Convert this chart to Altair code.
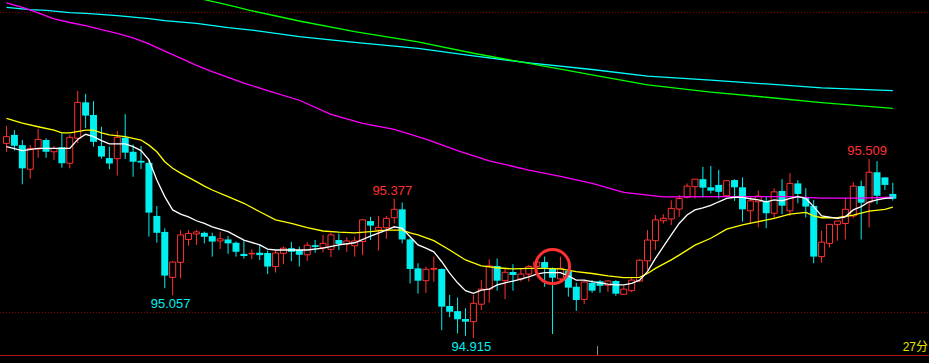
import altair as alt
import pandas as pd

# ---------------- candle data ----------------
open_ = [
    95.561, 95.589, 95.555, 95.475, 95.542, 95.572, 95.533, 95.548, 95.495, 95.578,
    95.697, 95.655, 95.552, 95.512, 95.510, 95.580, 95.533, 95.503, 95.496, 95.320,
    95.267, 95.116, 95.166, 95.242, 95.260, 95.264, 95.253, 95.237, 95.242, 95.231,
    95.194, 95.194, 95.198, 95.197, 95.152, 95.196, 95.213, 95.207, 95.191, 95.223,
    95.215, 95.209, 95.240, 95.227, 95.221, 95.235, 95.303, 95.273, 95.281, 95.314,
    95.342, 95.242, 95.146, 95.105, 95.143, 95.144, 95.021, 95.004, 94.978, 94.969,
    95.027, 95.077, 95.154, 95.105, 95.134, 95.111, 95.127, 95.152, 95.167, 95.146,
    95.111, 95.137, 95.085, 95.043, 95.098, 95.103, 95.090, 95.104, 95.060, 95.072,
    95.104, 95.171, 95.238, 95.304, 95.310, 95.343, 95.382, 95.417, 95.442, 95.415,
    95.423, 95.387, 95.439, 95.415, 95.337, 95.367, 95.370, 95.329, 95.403, 95.337,
    95.428, 95.382, 95.353, 95.185, 95.229, 95.292, 95.295, 95.320, 95.419, 95.365,
    95.465, 95.448, 95.393]

close = [
    95.583, 95.553, 95.478, 95.544, 95.574, 95.533, 95.544, 95.495, 95.581, 95.697,
    95.653, 95.566, 95.517, 95.494, 95.581, 95.530, 95.500, 95.497, 95.331, 95.264,
    95.122, 95.167, 95.257, 95.262, 95.267, 95.251, 95.235, 95.244, 95.229, 95.201,
    95.187, 95.196, 95.190, 95.152, 95.197, 95.213, 95.201, 95.191, 95.223, 95.217,
    95.229, 95.257, 95.227, 95.237, 95.237, 95.307, 95.288, 95.282, 95.312, 95.342,
    95.242, 95.144, 95.105, 95.143, 95.146, 95.019, 95.002, 94.977, 94.969, 95.030,
    95.077, 95.154, 95.105, 95.133, 95.124, 95.127, 95.152, 95.167, 95.148, 95.115,
    95.146, 95.082, 95.041, 95.101, 95.072, 95.088, 95.104, 95.062, 95.077, 95.107,
    95.173, 95.240, 95.307, 95.312, 95.345, 95.378, 95.419, 95.442, 95.414, 95.404,
    95.400, 95.437, 95.415, 95.342, 95.370, 95.386, 95.329, 95.400, 95.354, 95.428,
    95.393, 95.351, 95.185, 95.233, 95.292, 95.303, 95.342, 95.419, 95.364, 95.465,
    95.387, 95.423, 95.377]

high = [
    95.619, 95.605, 95.572, 95.555, 95.609, 95.578, 95.552, 95.594, 95.589, 95.735,
    95.725, 95.701, 95.616, 95.550, 95.602, 95.658, 95.557, 95.552, 95.506, 95.353,
    95.279, 95.170, 95.273, 95.273, 95.273, 95.268, 95.264, 95.268, 95.253, 95.235,
    95.240, 95.209, 95.226, 95.205, 95.205, 95.218, 95.234, 95.218, 95.233, 95.240,
    95.257, 95.264, 95.262, 95.249, 95.251, 95.310, 95.317, 95.320, 95.320, 95.377,
    95.365, 95.246, 95.163, 95.152, 95.185, 95.146, 95.058, 95.049, 95.013, 95.058,
    95.107, 95.176, 95.179, 95.146, 95.160, 95.146, 95.157, 95.170, 95.185, 95.149,
    95.185, 95.143, 95.098, 95.107, 95.107, 95.107, 95.107, 95.107, 95.088, 95.116,
    95.176, 95.273, 95.323, 95.326, 95.372, 95.389, 95.428, 95.442, 95.483, 95.486,
    95.473, 95.439, 95.442, 95.448, 95.386, 95.404, 95.384, 95.412, 95.442, 95.462,
    95.439, 95.412, 95.373, 95.271, 95.292, 95.303, 95.378, 95.432, 95.437, 95.509,
    95.502, 95.448, 95.430]

low = [
    95.533, 95.537, 95.425, 95.444, 95.513, 95.513, 95.506, 95.480, 95.478, 95.561,
    95.612, 95.550, 95.510, 95.475, 95.454, 95.509, 95.450, 95.476, 95.251, 95.231,
    95.080, 95.057, 95.113, 95.221, 95.224, 95.229, 95.185, 95.210, 95.194, 95.185,
    95.179, 95.177, 95.174, 95.127, 95.132, 95.160, 95.170, 95.152, 95.171, 95.198,
    95.199, 95.183, 95.207, 95.201, 95.185, 95.190, 95.240, 95.205, 95.244, 95.295,
    95.229, 95.096, 95.062, 95.065, 95.102, 94.941, 94.984, 94.930, 94.922, 94.915,
    95.008, 95.032, 95.072, 95.044, 95.072, 95.102, 95.102, 95.135, 95.085, 94.928,
    95.105, 95.052, 95.005, 95.027, 95.065, 95.065, 95.068, 95.055, 95.058, 95.067,
    95.102, 95.141, 95.207, 95.295, 95.290, 95.317, 95.378, 95.378, 95.382, 95.395,
    95.378, 95.384, 95.370, 95.301, 95.295, 95.282, 95.279, 95.309, 95.326, 95.320,
    95.362, 95.315, 95.163, 95.165, 95.216, 95.238, 95.242, 95.313, 95.242, 95.282,
    95.359, 95.406, 95.371]

# ---------------- moving-average lines ----------------
white_x = [0, 2, 4, 6, 8, 9, 10, 11, 12, 13, 15, 16, 17, 18, 19, 20, 21, 22, 23, 24,
           25, 26, 28, 30, 32, 33, 34, 36, 38, 40, 42, 44, 46, 48, 49, 50, 51, 52,
           53, 54, 55, 56, 57, 58, 59, 60, 61, 62, 63, 64, 65, 66, 67, 68, 69, 70,
           71, 72, 73, 74, 75, 76, 77, 78, 79, 80, 81, 82, 83, 84, 85, 86, 87, 88,
           89, 90, 91, 92, 93, 94, 95, 96, 97, 98, 99, 100, 101, 102, 103, 104, 105,
           106, 107, 108, 109, 110, 111, 112]
white_y = [95.550, 95.537, 95.544, 95.544, 95.544, 95.574, 95.591, 95.583, 95.570, 95.559,
           95.559, 95.550, 95.537, 95.506, 95.439, 95.384, 95.340, 95.326, 95.317, 95.304,
           95.295, 95.284, 95.268, 95.240, 95.224, 95.210, 95.207, 95.207, 95.207, 95.213,
           95.224, 95.231, 95.253, 95.273, 95.284, 95.279, 95.251, 95.224,
           95.213, 95.201, 95.168, 95.130, 95.098, 95.072, 95.063, 95.074, 95.077, 95.091,
           95.098, 95.104, 95.110, 95.118, 95.127, 95.132, 95.132, 95.132, 95.121, 95.107,
           95.107, 95.102, 95.098, 95.094, 95.091, 95.091, 95.096, 95.107, 95.135, 95.179,
           95.218, 95.257, 95.295, 95.323, 95.340, 95.347, 95.355, 95.367, 95.378, 95.382,
           95.382, 95.377, 95.373, 95.367, 95.373, 95.370, 95.378, 95.384, 95.378, 95.351,
           95.320, 95.316, 95.312, 95.317, 95.340, 95.351, 95.367, 95.373, 95.378, 95.380]

yellow_x = [0, 2, 4, 6, 7, 8, 10, 11, 12, 13, 15, 17, 18, 19, 20, 21, 22, 23, 24, 25,
            26, 28, 30, 32, 34, 36, 38, 40, 42, 44, 46, 48, 50, 51, 52, 54, 56, 58, 60,
            62, 64, 66, 68, 70, 72, 74, 76, 78, 80, 81, 82, 84, 85, 87, 89, 91, 93, 95,
            97, 99, 101, 102, 103, 105, 107, 109, 111, 112]
yellow_y = [95.644, 95.628, 95.616, 95.605, 95.596, 95.596, 95.605, 95.605, 95.596, 95.589,
            95.583, 95.572, 95.555, 95.533, 95.500, 95.478, 95.462, 95.448, 95.434, 95.419,
            95.406, 95.384, 95.362, 95.334, 95.307, 95.295, 95.281, 95.270, 95.266, 95.264,
            95.268, 95.273, 95.273, 95.264, 95.257, 95.238, 95.207, 95.174, 95.154, 95.148,
            95.144, 95.146, 95.146, 95.144, 95.135, 95.129, 95.121, 95.115, 95.116, 95.129,
            95.146, 95.174, 95.190, 95.223, 95.246, 95.276, 95.290, 95.301, 95.312, 95.326,
            95.332, 95.320, 95.314, 95.314, 95.323, 95.336, 95.342, 95.349]

magenta_x = [0, 2, 4, 6, 8, 10, 12, 14, 16, 18, 20, 22, 24, 26, 28, 30, 33, 37, 41, 45,
             49, 53, 57, 61, 66, 70, 74, 78, 83, 91, 99, 103, 108, 112]
magenta_y = [96.027, 96.012, 95.994, 95.974, 95.962, 95.952, 95.938, 95.926, 95.911, 95.891,
             95.867, 95.844, 95.820, 95.799, 95.780, 95.761, 95.736, 95.704, 95.657, 95.627,
             95.607, 95.575, 95.537, 95.503, 95.472, 95.451, 95.428, 95.398, 95.383, 95.384,
             95.384, 95.379, 95.379, 95.382]

cyan_x = [0, 3, 5, 8, 10, 14, 18, 20, 24, 28, 31, 37, 44, 52, 59, 66, 74, 81, 89, 96, 103, 112]
cyan_y = [96.012, 96.005, 96.002, 95.995, 95.992, 95.985, 95.975, 95.968, 95.959, 95.945,
          95.937, 95.915, 95.896, 95.876, 95.851, 95.828, 95.806, 95.784, 95.771, 95.758,
          95.745, 95.736]

green_x = [25, 27, 29, 31, 37, 44, 52, 59, 66, 74, 81, 89, 96, 103, 112]
green_y = [96.038, 96.026, 96.014, 96.001, 95.967, 95.932, 95.898, 95.860, 95.826, 95.788,
           95.755, 95.731, 95.714, 95.696, 95.677]

# annotations: extreme prices and the candle they belong to
hi_labels = ["95.377", "95.509"]
hi_idx = [49, 109]
hi_val = [95.377, 95.509]
lo_labels = ["95.057", "94.915"]
lo_idx = [21, 59]
lo_val = [95.057, 94.915]
circle_idx = [69]
circle_val = [95.152]
time_label = "27分"

# ---------------- styling ----------------
RED = "#ff3232"
CYAN = "#00f0f0"
BG = "#000000"

X = alt.Scale(domain=[-0.1875, 115.9375], nice=False, zero=False)
Y = alt.Scale(domain=[94.8319, 96.0367], nice=False, zero=False)

n = len(open_)
df = pd.DataFrame({"i": list(range(n)), "open": open_, "high": high, "low": low, "close": close})
df["dir"] = ["u" if c >= o else "d" for o, c in zip(open_, close)]
df["top"] = df[["open", "close"]].max(axis=1)
df["bot"] = df[["open", "close"]].min(axis=1)

xe = alt.X("i:Q", scale=X, axis=None)

wicks = alt.Chart(df).mark_rule(strokeWidth=1).encode(
    x=xe,
    y=alt.Y("low:Q", scale=Y, axis=None),
    y2="high:Q",
    color=alt.Color("dir:N", scale=alt.Scale(domain=["u", "d"], range=[RED, CYAN]), legend=None),
)

down = alt.Chart(df).transform_filter(alt.datum.dir == "d").mark_bar(
    size=7, color=CYAN, strokeWidth=0
).encode(x=xe, y=alt.Y("top:Q", scale=Y, axis=None), y2="bot:Q")

up = alt.Chart(df).transform_filter(alt.datum.dir == "u").mark_bar(
    size=6, fill=BG, stroke=RED, strokeWidth=1
).encode(x=xe, y=alt.Y("top:Q", scale=Y, axis=None), y2="bot:Q")


def ma_line(xs, ys, color):
    d = pd.DataFrame({"i": xs, "v": ys})
    return alt.Chart(d).mark_line(color=color, strokeWidth=1.3, clip=True).encode(
        x=xe, y=alt.Y("v:Q", scale=Y, axis=None)
    )


lines = [
    ma_line(cyan_x, cyan_y, "#00ffff"),
    ma_line(green_x, green_y, "#00ff00"),
    ma_line(magenta_x, magenta_y, "#ff00ff"),
    ma_line(yellow_x, yellow_y, "#ffff00"),
    ma_line(white_x, white_y, "#ffffff"),
]

hi_df = pd.DataFrame({"i": hi_idx, "v": hi_val, "t": hi_labels})
lo_df = pd.DataFrame({"i": lo_idx, "v": lo_val, "t": lo_labels})
FONT = "Liberation Sans"
hi_text = alt.Chart(hi_df).mark_text(
    align="center", baseline="middle", dx=-2, dy=-8, font=FONT, fontSize=13, color=RED
).encode(x=xe, y=alt.Y("v:Q", scale=Y, axis=None), text="t:N")
lo_text = alt.Chart(lo_df).mark_text(
    align="center", baseline="middle", dx=-2, dy=9, font=FONT, fontSize=13, color=CYAN
).encode(x=xe, y=alt.Y("v:Q", scale=Y, axis=None), text="t:N")

circ_df = pd.DataFrame({"i": circle_idx, "v": circle_val})
circle = alt.Chart(circ_df).mark_point(
    shape="circle", size=1156, filled=False, color="#ff3030", strokeWidth=3, opacity=1
).encode(x=xe, y=alt.Y("v:Q", scale=Y, axis=None))

dot_top = alt.Chart(df).mark_rule(color="#8a0000", strokeWidth=1, strokeDash=[1, 2]).encode(
    x=alt.value(0), x2=alt.value(929), y=alt.value(12.5)
)
dot_bot = alt.Chart(df).mark_rule(color="#8a0000", strokeWidth=1, strokeDash=[1, 2]).encode(
    x=alt.value(0), x2=alt.value(929), y=alt.value(312.5)
)
base_line = alt.Chart(df).mark_rule(color="#b01414", strokeWidth=1).encode(
    x=alt.value(0), x2=alt.value(929), y=alt.value(355.5)
)
tick = alt.Chart(df).mark_rule(color="#8c8c8c", strokeWidth=1).encode(
    x=alt.value(597.5), y=alt.value(346), y2=alt.value(355)
)
time_text = alt.Chart(pd.DataFrame({"t": [time_label]})).mark_text(
    align="right", baseline="middle", font="Liberation Sans, Noto Sans CJK SC",
    fontSize=12, color="#e6e600"
).encode(x=alt.value(928), y=alt.value(347), text="t:N")

chart = alt.layer(
    dot_top, dot_bot, base_line, tick,
    wicks, down, up,
    *lines,
    hi_text, lo_text, circle, time_text,
).properties(
    width=929, height=363, padding=0, autosize=alt.AutoSizeParams(type="none"),
    background=BG,
).configure_view(strokeWidth=0)

chart.save("out.html", embed_options={"renderer": "svg", "actions": False})
